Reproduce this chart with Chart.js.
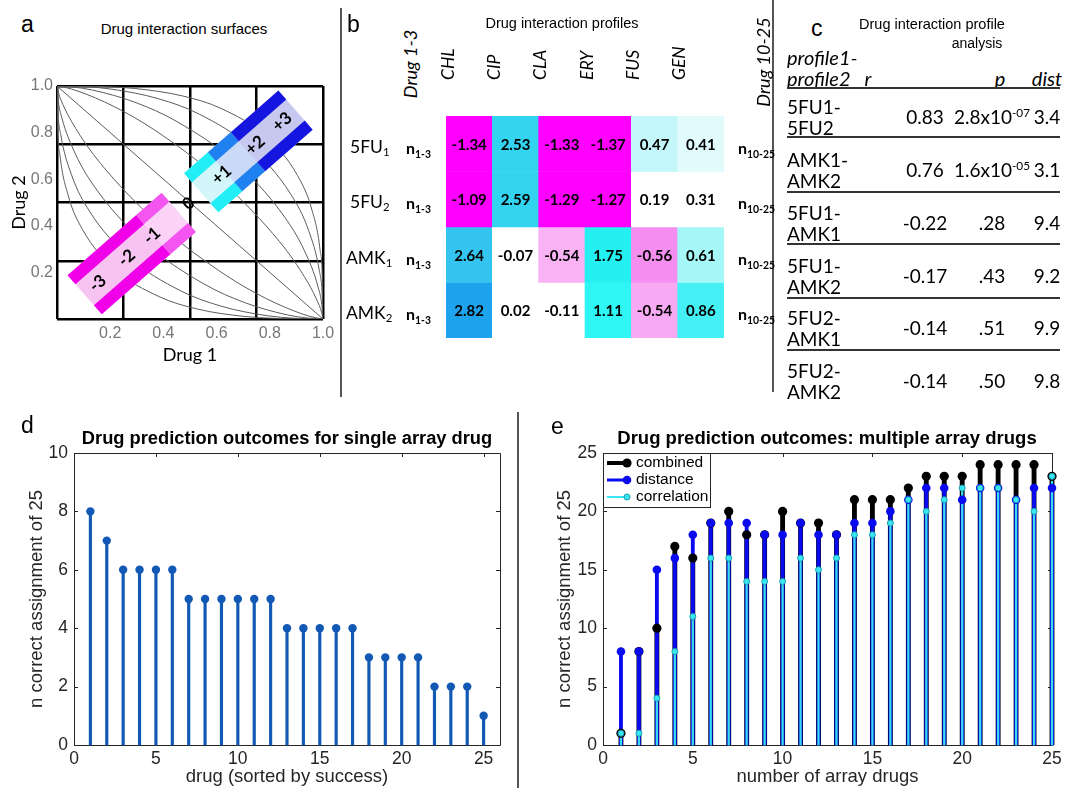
<!DOCTYPE html>
<html>
<head>
<meta charset="utf-8">
<script src="https://cdn.jsdelivr.net/npm/chart.js@4.4.1/dist/chart.umd.min.js"></script>
<style>
  body { margin: 0; background: #fff; }
  #page { position: relative; width: 1069px; height: 788px; overflow: hidden; background: #fff; }
  canvas { position: absolute; }
  .abs { position: absolute; white-space: nowrap; line-height: 1.2; color: #000; }
  .arial { font-family: "Liberation Sans", Arial, sans-serif; }
  .calib { font-family: Lato, "Open Sans", sans-serif; }
  .plab { font-family: "Liberation Sans", Arial, sans-serif; font-size: 23px; }
  .rule { position: absolute; background: #555; }
  .trule { position: absolute; background: #333; height: 2px; }
  sub { font-size: 65%; vertical-align: -0.35em; line-height: 0; }
  sup { font-size: 62%; vertical-align: 0.6em; line-height: 0; }
</style>
</head>
<body>
<div id="page">
  <canvas id="chartA" width="341" height="300" style="left:0;top:70px"></canvas>
  <canvas id="chartB" width="290" height="345" style="left:440px;top:0"></canvas>
  <canvas id="chartD" width="518" height="388" style="left:0;top:400px"></canvas>
  <canvas id="chartE" width="549" height="388" style="left:520px;top:400px"></canvas>
  <div class="rule" style="left:340px;top:8px;width:1.5px;height:389px"></div>
  <div class="rule" style="left:772px;top:0;width:1.5px;height:392px"></div>
  <div class="rule" style="left:517px;top:412px;width:1.5px;height:376px"></div>
</div>
<script>
/* =========================
   DATA  a : isobole curves
========================= */
const isoIn1 = [[0,1],[0.0027,0.8188],[0.0107,0.7064],[0.0426,0.5281],[0.0958,0.3844],[0.2154,0.2154],[0.3844,0.0958],[0.5281,0.0426],[0.7064,0.0107],[0.8188,0.0027],[1,0]];
const isoIn2 = [[0,1],[0.0034,0.8888],[0.0137,0.7932],[0.0544,0.6193],[0.1214,0.4641],[0.2680,0.2680],[0.4641,0.1214],[0.6193,0.0544],[0.7932,0.0137],[0.8888,0.0034],[1,0]];
const isoIn3 = [[0,1],[0.0044,0.9396],[0.0175,0.8665],[0.0690,0.7089],[0.1525,0.5494],[0.3287,0.3287],[0.5494,0.1525],[0.7089,0.0690],[0.8665,0.0175],[0.9396,0.0044],[1,0]];
const isoIn4 = [[0,1],[0.0055,0.9709],[0.0220,0.9210],[0.0862,0.7890],[0.1883,0.6340],[0.3950,0.3950],[0.6340,0.1883],[0.7890,0.0862],[0.9210,0.0220],[0.9709,0.0055],[1,0]];
const isoDiag = [[0,1],[1,0]];
const isoOut4 = [[0,1],[0.0291,0.9945],[0.0790,0.9780],[0.2110,0.9138],[0.3660,0.8117],[0.6050,0.6050],[0.8117,0.3660],[0.9138,0.2110],[0.9780,0.0790],[0.9945,0.0291],[1,0]];
const isoOut3 = [[0,1],[0.0604,0.9956],[0.1335,0.9825],[0.2911,0.9310],[0.4506,0.8475],[0.6713,0.6713],[0.8475,0.4506],[0.9310,0.2911],[0.9825,0.1335],[0.9956,0.0604],[1,0]];
const isoOut2 = [[0,1],[0.1112,0.9966],[0.2068,0.9863],[0.3807,0.9456],[0.5359,0.8786],[0.7320,0.7320],[0.8786,0.5359],[0.9456,0.3807],[0.9863,0.2068],[0.9966,0.1112],[1,0]];
const isoOut1 = [[0,1],[0.1812,0.9973],[0.2936,0.9893],[0.4719,0.9574],[0.6156,0.9042],[0.7846,0.7846],[0.9042,0.6156],[0.9574,0.4719],[0.9893,0.2936],[0.9973,0.1812],[1,0]];
const isoCurves = [isoIn1, isoIn2, isoIn3, isoIn4, isoDiag, isoOut4, isoOut3, isoOut2, isoOut1];
const interactionLabels = ["-3", "-2", "-1", "0", "+1", "+2", "+3"];
const interactionPos = [0.153, 0.262, 0.357, 0.495, 0.619, 0.745, 0.846];

/* =========================
   DATA  b : profiles
========================= */
const profileDrugs = ["CHL", "CIP", "CLA", "ERY", "FUS", "GEN"];
const profileRows = ["5FU", "5FU", "AMK", "AMK"];
const profileSubs = ["1", "2", "1", "2"];
const prof5FU1 = [-1.34, 2.53, -1.33, -1.37, 0.47, 0.41];
const prof5FU2 = [-1.09, 2.59, -1.29, -1.27, 0.19, 0.31];
const profAMK1 = [2.64, -0.07, -0.54, 1.75, -0.56, 0.61];
const profAMK2 = [2.82, 0.02, -0.11, 1.11, -0.54, 0.86];
const col5FU1 = ["#ff00ff", "#33d4f0", "#ff00ff", "#ff00ff", "#c3f7f9", "#e1fbfc"];
const col5FU2 = ["#ff00ff", "#33d4f0", "#ff00ff", "#ff00ff", "#ffffff", "#ffffff"];
const colAMK1 = ["#33c4ef", "#ffffff", "#f9b3f5", "#25f0f1", "#f48ff0", "#a5f7f8"];
const colAMK2 = ["#1ea3ef", "#ffffff", "#ffffff", "#2ff6f4", "#f7aaf3", "#45f0f4"];

/* =========================
   DATA  c : profile analysis
========================= */
const pairFirst = ["5FU1-", "AMK1-", "5FU1-", "5FU1-", "5FU2-", "5FU2-"];
const pairSecond = ["5FU2", "AMK2", "AMK1", "AMK2", "AMK1", "AMK2"];
const pairR = ["0.83", "0.76", "-0.22", "-0.17", "-0.14", "-0.14"];
const pairP = ["2.8x10<sup>-07</sup>", "1.6x10<sup>-05</sup>", ".28", ".43", ".51", ".50"];
const pairDist = ["3.4", "3.1", "9.4", "9.2", "9.9", "9.8"];

/* =========================
   DATA  d / e : predictions
========================= */
const drugRank = [1,2,3,4,5,6,7,8,9,10,11,12,13,14,15,16,17,18,19,20,21,22,23,24,25];
const singleCorrect = [8,7,6,6,6,6,5,5,5,5,5,5,4,4,4,4,4,3,3,3,3,2,2,2,1];
const arrayCount = [1,2,3,4,5,6,7,8,9,10,11,12,13,14,15,16,17,18,19,20,21,22,23,24,25];
const combinedCorrect = [1,8,10,17,16,19,20,18,18,20,19,19,18,21,21,21,22,23,23,23,24,24,24,24,23];
const distanceCorrect = [8,8,15,16,18,19,19,19,18,18,19,18,18,19,19,20,21,22,22,21,22,22,21,22,22];
const correlationCorrect = [1,1,4,8,11,16,16,14,14,14,16,15,16,18,18,19,21,20,21,22,22,22,21,20,23];
const countTicks = [0, 5, 10, 15, 20, 25];

/* =========================
   HTML TEXT
========================= */
const page = document.getElementById("page");

function addText(html, x, y, cls, align, rot) {
  const d = document.createElement("div");
  d.className = "abs " + (cls || "");
  d.innerHTML = html;
  d.style.left = x + "px";
  d.style.top = y + "px";
  let tx = "translate(-50%,-50%)";
  if (align === "left") tx = "translate(0,-50%)";
  if (align === "right") tx = "translate(-100%,-50%)";
  if (rot) tx += " rotate(" + rot + "deg)";
  d.style.transform = tx;
  page.appendChild(d);
  return d;
}

// panel letters
addText("a", 21, 25, "plab", "left");
addText("b", 347, 25, "plab", "left");
addText("c", 811, 29, "plab", "left");
addText("d", 21, 426, "plab", "left");
addText("e", 551, 427, "plab", "left");

// titles
addText("Drug interaction surfaces", 184, 29, "arial", "center").style.fontSize = "15px";
addText("Drug interaction profiles", 562, 24, "arial", "center").style.fontSize = "14.5px";
addText("Drug interaction profile", 932, 25, "arial", "center").style.fontSize = "14.5px";
addText("analysis", 977, 43, "arial", "center").style.fontSize = "14px";
const tD = addText("Drug prediction outcomes for single array drug", 287, 438, "arial", "center");
tD.style.fontSize = "18.3px"; tD.style.fontWeight = "bold";
const tE = addText("Drug prediction outcomes: multiple array drugs", 827, 438, "arial", "center");
tE.style.fontSize = "18.5px"; tE.style.fontWeight = "bold";

// panel b side labels
const sideStyle = "font-size:18px;font-style:italic";
addText("Drug 1-3", 411, 64, "calib", "center", -90).style.cssText += sideStyle;
addText("Drug 10-25", 764, 62, "calib", "center", -90).style.cssText += sideStyle;
const rowY = [146, 201, 257, 312];
profileRows.forEach((name, i) => {
  const left = name === "AMK" ? 346 : 350;
  addText(name + "<sub>" + profileSubs[i] + "</sub>", left, rowY[i], "calib", "left").style.fontSize = "17.5px";
  const n1 = addText("n<sub>1-3</sub>", 406, rowY[i] + 2, "calib", "left");
  n1.style.fontSize = "16px"; n1.style.fontWeight = "bold";
  const n2 = addText("n<sub>10-25</sub>", 738, rowY[i] + 2, "calib", "left");
  n2.style.fontSize = "16px"; n2.style.fontWeight = "bold";
});

// panel c table
const hdr = "font-size:20px;font-style:italic";
addText("profile1-", 787, 57, "calib", "left").style.cssText += hdr;
addText("profile2", 787, 78, "calib", "left").style.cssText += hdr;
addText("r", 868, 78, "calib", "center").style.cssText += hdr;
addText("p", 1000, 78, "calib", "center").style.cssText += hdr;
addText("dist", 1047, 78, "calib", "center").style.cssText += hdr;
const ruleY = [88, 137, 192, 244, 298, 350];
ruleY.forEach(y => {
  const r = document.createElement("div");
  r.className = "trule";
  r.style.left = "787px"; r.style.width = "273px"; r.style.top = (y - 1) + "px";
  page.appendChild(r);
});
const valueY = [117, 170, 223, 276, 328, 381];
pairFirst.forEach((name, i) => {
  const y = valueY[i];
  [
    addText(name, 787, y - 10, "calib", "left"),
    addText(pairSecond[i], 787, y + 11, "calib", "left"),
    addText(pairR[i], 925, y, "calib", "center"),
    addText(pairP[i], 992, y, "calib", "center"),
    addText(pairDist[i], 1047, y, "calib", "center")
  ].forEach(el => el.style.fontSize = "19px");
});

/* =========================
   PLUGINS
========================= */
// MATLAB-like frame with inward ticks
const frameTicks = {
  id: "frameTicks",
  beforeDatasetsDraw(chart) {
    const { ctx, chartArea: a, scales: { x, y } } = chart;
    ctx.save();
    ctx.strokeStyle = "#262626";
    ctx.lineWidth = 1;
    ctx.beginPath();
    ctx.rect(Math.round(a.left) + 0.5, Math.round(a.top) + 0.5, Math.round(a.width), Math.round(a.height));
    x.ticks.forEach(t => {
      const px = Math.round(x.getPixelForValue(t.value)) + 0.5;
      ctx.moveTo(px, a.bottom); ctx.lineTo(px, a.bottom - 4);
      ctx.moveTo(px, a.top); ctx.lineTo(px, a.top + 4);
    });
    y.ticks.forEach(t => {
      const py = Math.round(y.getPixelForValue(t.value)) + 0.5;
      ctx.moveTo(a.left, py); ctx.lineTo(a.left + 4, py);
      ctx.moveTo(a.right, py); ctx.lineTo(a.right - 4, py);
    });
    ctx.stroke();
    ctx.restore();
  }
};

// rotated interaction boxes of panel a
const bandBoxes = [
  { width: 52, band: 12, segs: [[0.104, 0.362, "#f7c4f1", "#f000e8"], [0.362, 0.456, "#fad3f7", "#f455f0"]] },
  { width: 52, band: 12, segs: [[0.542, 0.632, "#d2f6fa", "#22eef5"], [0.632, 0.718, "#cad9f5", "#1f80ef"], [0.718, 0.895, "#c6c8f0", "#1515e0"]] }
];
const bandPlugin = {
  id: "bandPlugin",
  afterDatasetsDraw(chart) {
    const { ctx, scales: { x, y } } = chart;
    const pt = s => [x.getPixelForValue(s), y.getPixelForValue(s)];
    const [ax, ay] = pt(0), [bx, by] = pt(1);
    const ang = Math.atan2(by - ay, bx - ax);
    const unit = Math.hypot(bx - ax, by - ay);
    ctx.save();
    bandBoxes.forEach(box => {
      const s0 = box.segs[0][0];
      const [ox, oy] = pt(s0);
      ctx.save();
      ctx.translate(ox, oy);
      ctx.rotate(ang);
      box.segs.forEach(([from, to, fill, band]) => {
        const a = (from - s0) * unit, b = (to - s0) * unit + 0.6;
        ctx.fillStyle = fill;
        ctx.fillRect(a, -box.width / 2, b - a, box.width);
        ctx.fillStyle = band;
        ctx.fillRect(a, -box.width / 2, b - a, box.band);
        ctx.fillRect(a, box.width / 2 - box.band, b - a, box.band);
      });
      ctx.restore();
    });
    ctx.fillStyle = "#000";
    ctx.font = "bold 17px Lato";
    ctx.textAlign = "center";
    ctx.textBaseline = "middle";
    interactionLabels.forEach((lab, i) => {
      const [px, py] = pt(interactionPos[i]);
      ctx.save();
      ctx.translate(px, py);
      ctx.rotate(ang);
      ctx.fillText(lab, 0, 0);
      ctx.restore();
    });
    ctx.restore();
  }
};

// values printed in heat map cells
const cellText = {
  id: "cellText",
  afterDatasetsDraw(chart) {
    const { ctx } = chart;
    ctx.save();
    ctx.fillStyle = "#000";
    ctx.font = "bold 15px Lato";
    ctx.textAlign = "center";
    ctx.textBaseline = "middle";
    chart.data.datasets.forEach((ds, i) => {
      chart.getDatasetMeta(i).data.forEach((el, j) => {
        ctx.fillText(ds.values[j].toFixed(2), el.x, (el.y + el.base) / 2 + 1);
      });
    });
    ctx.restore();
  }
};

// legend box inside panel e
const legendE = {
  id: "legendE",
  afterDatasetsDraw(chart) {
    const { ctx, chartArea: a } = chart;
    const items = chart.data.datasets.filter(d => d.legendLine);
    ctx.save();
    ctx.fillStyle = "#fff";
    ctx.fillRect(a.left, a.top, 107, 54);
    ctx.strokeStyle = "#262626";
    ctx.lineWidth = 1;
    ctx.strokeRect(Math.round(a.left) + 0.5, Math.round(a.top) + 0.5, 107, 54);
    ctx.font = "15.5px 'Liberation Sans'";
    ctx.textBaseline = "middle";
    items.forEach((d, i) => {
      const yy = a.top + 10 + i * 17;
      ctx.strokeStyle = d.legendLine;
      ctx.lineWidth = d.legendWidth;
      ctx.beginPath();
      ctx.moveTo(a.left + 4, yy); ctx.lineTo(a.left + 24, yy);
      ctx.stroke();
      ctx.beginPath();
      ctx.arc(a.left + 24, yy, d.pointRadius, 0, Math.PI * 2);
      ctx.fillStyle = d.pointBackgroundColor;
      ctx.fill();
      if (d.pointBorderWidth) {
        ctx.lineWidth = d.pointBorderWidth;
        ctx.strokeStyle = d.pointBorderColor;
        ctx.stroke();
      }
      ctx.fillStyle = "#000";
      ctx.fillText(d.label, a.left + 33, yy);
    });
    ctx.restore();
  }
};

/* =========================
   COMMON
========================= */
Chart.defaults.font.family = "'Liberation Sans', Arial, sans-serif";
const base = {
  responsive: false,
  animation: false,
  devicePixelRatio: 1,
  plugins: { legend: { display: false }, tooltip: { enabled: false } }
};
const pts = (xs, ys) => xs.map((x, i) => ({ x, y: ys[i] }));
const fixedTicks = s => { s.ticks = countTicks.map(v => ({ value: v })); };
const tickFont = { size: 17.5 };
const axisTitleFont = { size: 18.5 };

/* =========================
   PANEL A
========================= */
new Chart(document.getElementById("chartA"), {
  type: "line",
  data: {
    datasets: isoCurves.map(c => ({
      data: c.map(([x, y]) => ({ x, y })),
      borderColor: "#5c5c5c",
      borderWidth: 1,
      pointRadius: 0,
      cubicInterpolationMode: "monotone",
      fill: false
    }))
  },
  options: {
    ...base,
    layout: { padding: { top: 16, right: 18, left: 0, bottom: 0 } },
    scales: {
      x: {
        type: "linear", min: 0, max: 1,
        ticks: { stepSize: 0.25, display: false },
        grid: { color: "#000", lineWidth: 2.5, drawTicks: false },
        border: { display: false },
        afterFit: s => { s.height = 0; }
      },
      y: {
        type: "linear", min: 0, max: 1,
        ticks: { stepSize: 0.25, display: false },
        grid: { color: "#000", lineWidth: 2.5, drawTicks: false },
        border: { display: false },
        afterFit: s => { s.width = 0; }
      },
      xl: {
        type: "linear", position: "bottom", min: 0, max: 1,
        ticks: {
          stepSize: 0.2, padding: 5, color: "#777", font: { size: 16 },
          callback: v => Math.abs(v) < 1e-9 ? "" : v.toFixed(1)
        },
        grid: { display: false, drawTicks: false },
        border: { display: false },
        title: { display: true, text: "Drug 1", color: "#000", font: { family: "Lato", size: 18 }, padding: { top: 0, bottom: 4 } },
        afterFit: s => { s.height = 51; }
      },
      yl: {
        type: "linear", position: "left", min: 0, max: 1,
        ticks: {
          stepSize: 0.2, padding: 4, color: "#777", font: { size: 16 },
          callback: v => Math.abs(v) < 1e-9 ? "" : v.toFixed(1)
        },
        grid: { display: false, drawTicks: false },
        border: { display: false },
        title: { display: true, text: "Drug 2", color: "#000", font: { family: "Lato", size: 18 }, padding: { top: 8, bottom: 0 } },
        afterFit: s => { s.width = 57; }
      }
    }
  },
  plugins: [bandPlugin]
});

/* =========================
   PANEL B
========================= */
const profileValues = [prof5FU1, prof5FU2, profAMK1, profAMK2];
const profileColors = [col5FU1, col5FU2, colAMK1, colAMK2];
new Chart(document.getElementById("chartB"), {
  type: "bar",
  data: {
    labels: profileDrugs,
    datasets: profileValues.map((vals, r) => ({
      data: vals.map(() => [r - 0.5, r + 0.5]),
      values: vals,
      backgroundColor: profileColors[r],
      borderWidth: 0,
      grouped: false,
      barPercentage: 1,
      categoryPercentage: 1
    }))
  },
  options: {
    ...base,
    layout: { padding: { top: 46, right: 6, left: 6, bottom: 7 } },
    scales: {
      x: {
        position: "top",
        grid: { display: false, drawTicks: false },
        border: { display: false },
        ticks: { minRotation: 90, maxRotation: 90, padding: 36, color: "#000", font: { family: "Lato", style: "italic", size: 17.5 } },
        afterFit: s => { s.height = 70; s.paddingLeft = 0; s.paddingRight = 0; }
      },
      y: { display: false, min: -0.5, max: 3.5, reverse: true }
    }
  },
  plugins: [cellText]
});

/* =========================
   PANEL D
========================= */
new Chart(document.getElementById("chartD"), {
  type: "bar",
  data: {
    datasets: [
      { type: "bar", data: pts(drugRank, singleCorrect), backgroundColor: "#1259b5", barThickness: 2.5, grouped: false, clip: false, order: 2 },
      { type: "line", data: pts(drugRank, singleCorrect), showLine: false, pointRadius: 4.2, pointBackgroundColor: "#1259b5", pointBorderWidth: 0, clip: false, order: 1 }
    ]
  },
  options: {
    ...base,
    layout: { padding: { top: 53, right: 18, left: 0, bottom: 0 } },
    scales: {
      x: {
        type: "linear", min: 0, max: 26, offset: false,
        afterBuildTicks: fixedTicks,
        ticks: { padding: 4, color: "#262626", font: tickFont },
        grid: { display: false, drawTicks: false, offset: false },
        border: { display: false },
        title: { display: true, text: "drug (sorted by success)", color: "#262626", font: axisTitleFont, padding: { top: 0, bottom: 0 } },
        afterFit: s => { s.height = 43; }
      },
      y: {
        type: "linear", min: 0, max: 10,
        ticks: { stepSize: 2, padding: 6, color: "#262626", font: tickFont },
        grid: { display: false, drawTicks: false },
        border: { display: false },
        title: { display: true, text: "n correct assignment of 25", color: "#262626", font: axisTitleFont, padding: { top: 26, bottom: 0 } },
        afterFit: s => { s.width = 74; }
      }
    }
  },
  plugins: [frameTicks]
});

/* =========================
   PANEL E
========================= */
new Chart(document.getElementById("chartE"), {
  type: "bar",
  data: {
    datasets: [
      { type: "bar", data: pts(arrayCount, combinedCorrect), backgroundColor: "#000", barThickness: 4.2, grouped: false, clip: false, order: 6 },
      { type: "bar", data: pts(arrayCount, distanceCorrect), backgroundColor: "#0a0af0", barThickness: 3.2, grouped: false, clip: false, order: 5 },
      { type: "bar", data: pts(arrayCount, correlationCorrect), backgroundColor: "#38dcec", barThickness: 1.6, grouped: false, clip: false, order: 4 },
      { type: "line", label: "combined", legendLine: "#000", legendWidth: 4, data: pts(arrayCount, combinedCorrect), showLine: false, pointRadius: 4.6, pointBackgroundColor: "#000", pointBorderWidth: 0, clip: false, order: 3 },
      { type: "line", label: "distance", legendLine: "#0a0af0", legendWidth: 3, data: pts(arrayCount, distanceCorrect), showLine: false, pointRadius: 4.3, pointBackgroundColor: "#0a0af0", pointBorderWidth: 0, clip: false, order: 2 },
      { type: "line", label: "correlation", legendLine: "#3ae6f4", legendWidth: 2, data: pts(arrayCount, correlationCorrect), showLine: false, pointRadius: 3, pointBackgroundColor: "#3ae6f4", pointBorderColor: "#1a9fb0", pointBorderWidth: 1, clip: false, order: 1 }
    ]
  },
  options: {
    ...base,
    layout: { padding: { top: 53, right: 17, left: 0, bottom: 0 } },
    scales: {
      x: {
        type: "linear", min: 0, max: 25, offset: false,
        afterBuildTicks: fixedTicks,
        ticks: { padding: 4, color: "#262626", font: tickFont },
        grid: { display: false, drawTicks: false, offset: false },
        border: { display: false },
        title: { display: true, text: "number of array drugs", color: "#262626", font: axisTitleFont, padding: { top: 0, bottom: 0 } },
        afterFit: s => { s.height = 43; }
      },
      y: {
        type: "linear", min: 0, max: 25,
        ticks: { stepSize: 5, padding: 6, color: "#262626", font: tickFont },
        grid: { display: false, drawTicks: false },
        border: { display: false },
        title: { display: true, text: "n correct assignment of 25", color: "#262626", font: axisTitleFont, padding: { top: 34, bottom: 0 } },
        afterFit: s => { s.width = 83; }
      }
    }
  },
  plugins: [frameTicks, legendE]
});
</script>
</body>
</html>
